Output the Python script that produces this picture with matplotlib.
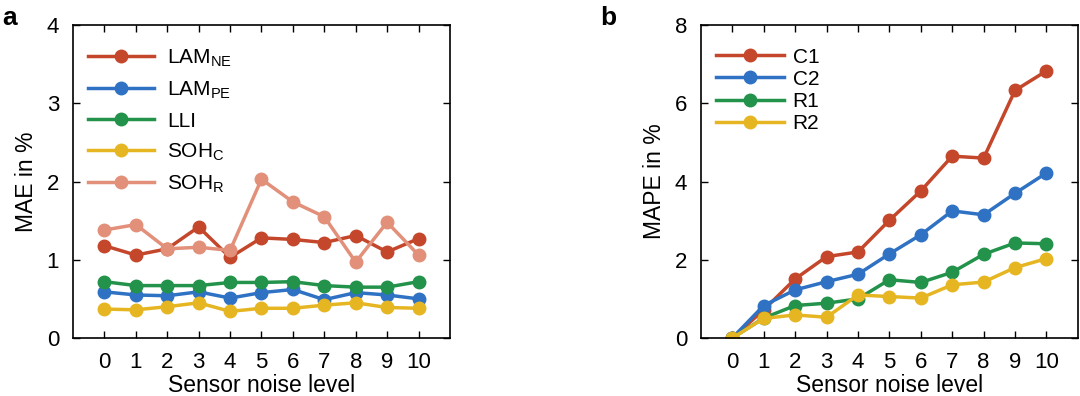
import matplotlib
matplotlib.use("Agg")
import matplotlib.pyplot as plt

plt.rcParams['font.family'] = ['Liberation Sans', 'DejaVu Sans']
plt.rcParams['mathtext.fontset'] = 'custom'
plt.rcParams['mathtext.rm'] = 'Liberation Sans'

noise = [0, 1, 2, 3, 4, 5, 6, 7, 8, 9, 10]

# panel a: MAE
lam_ne = [1.18, 1.06, 1.14, 1.42, 1.03, 1.28, 1.26, 1.22, 1.31, 1.10, 1.27]
lam_pe = [0.59, 0.55, 0.54, 0.59, 0.51, 0.58, 0.62, 0.49, 0.58, 0.55, 0.50]
lli = [0.72, 0.67, 0.67, 0.67, 0.71, 0.71, 0.72, 0.67, 0.65, 0.65, 0.72]
soh_c = [0.37, 0.36, 0.40, 0.45, 0.34, 0.38, 0.38, 0.42, 0.45, 0.39, 0.38]
soh_r = [1.38, 1.45, 1.14, 1.16, 1.12, 2.03, 1.74, 1.55, 0.97, 1.48, 1.06]

# panel b: MAPE
c1 = [0, 0.72, 1.51, 2.08, 2.20, 3.01, 3.76, 4.65, 4.60, 6.33, 6.83]
c2 = [0, 0.83, 1.23, 1.44, 1.63, 2.15, 2.64, 3.25, 3.15, 3.70, 4.22]
r1 = [0, 0.51, 0.83, 0.89, 1.00, 1.49, 1.42, 1.68, 2.14, 2.43, 2.41]
r2 = [0, 0.50, 0.59, 0.53, 1.10, 1.06, 1.02, 1.36, 1.43, 1.80, 2.03]

red = '#C4472B'
blue = '#2F72C4'
green = '#23924B'
yellow = '#E6B622'
salmon = '#E2907A'

fig = plt.figure(figsize=(10.8, 3.96), dpi=100)
ax1 = fig.add_axes([0.0676, 0.1465, 0.349, 0.790])
ax2 = fig.add_axes([0.649, 0.1465, 0.349, 0.790])

style = dict(marker='o', markersize=9, linewidth=2.5)

ax1.plot(noise, lam_ne, color=red, label=r'LAM$_\mathregular{NE}$', **style)
ax1.plot(noise, lam_pe, color=blue, label=r'LAM$_\mathregular{PE}$', **style)
ax1.plot(noise, lli, color=green, label='LLI', **style)
ax1.plot(noise, soh_c, color=yellow, label=r'SOH$_\mathregular{C}$', **style)
ax1.plot(noise, soh_r, color=salmon, label=r'SOH$_\mathregular{R}$', **style)
ax1.set_ylim(0, 4)
ax1.set_yticks([0, 1, 2, 3, 4])
ax1.set_ylabel('MAE in %', fontsize=16.5, labelpad=6)

ax2.plot(noise, c1, color=red, label='C1', **style)
ax2.plot(noise, c2, color=blue, label='C2', **style)
ax2.plot(noise, r1, color=green, label='R1', **style)
ax2.plot(noise, r2, color=yellow, label='R2', **style)
ax2.set_ylim(0, 8)
ax2.set_yticks([0, 2, 4, 6, 8])
ax2.set_ylabel('MAPE in %', fontsize=16.5, labelpad=6)

for ax in (ax1, ax2):
    ax.set_xlim(-1, 11)
    ax.set_xticks(noise)
    ax.set_xlabel('Sensor noise level', fontsize=16.5, labelpad=1)
    ax.tick_params(direction='in', top=True, right=True, labelsize=16,
                   length=5, width=1, pad=10)
    for s in ax.spines.values():
        s.set_linewidth(1.2)

ax1.legend(loc='upper left', frameon=False, fontsize=15, handlelength=3.2,
           labelspacing=0.5, bbox_to_anchor=(0.0, 0.975), borderaxespad=0.3,
           handletextpad=0.6)
ax2.legend(loc='upper left', frameon=False, fontsize=15, handlelength=3.3,
           labelspacing=0.15, bbox_to_anchor=(0.0, 0.975), borderaxespad=0.3,
           handletextpad=0.4)

fig.text(0.002, 0.985, 'a', fontsize=19, fontweight='bold', va='top')
fig.text(0.556, 0.985, 'b', fontsize=19, fontweight='bold', va='top')

fig.savefig('out.png', dpi=100)
